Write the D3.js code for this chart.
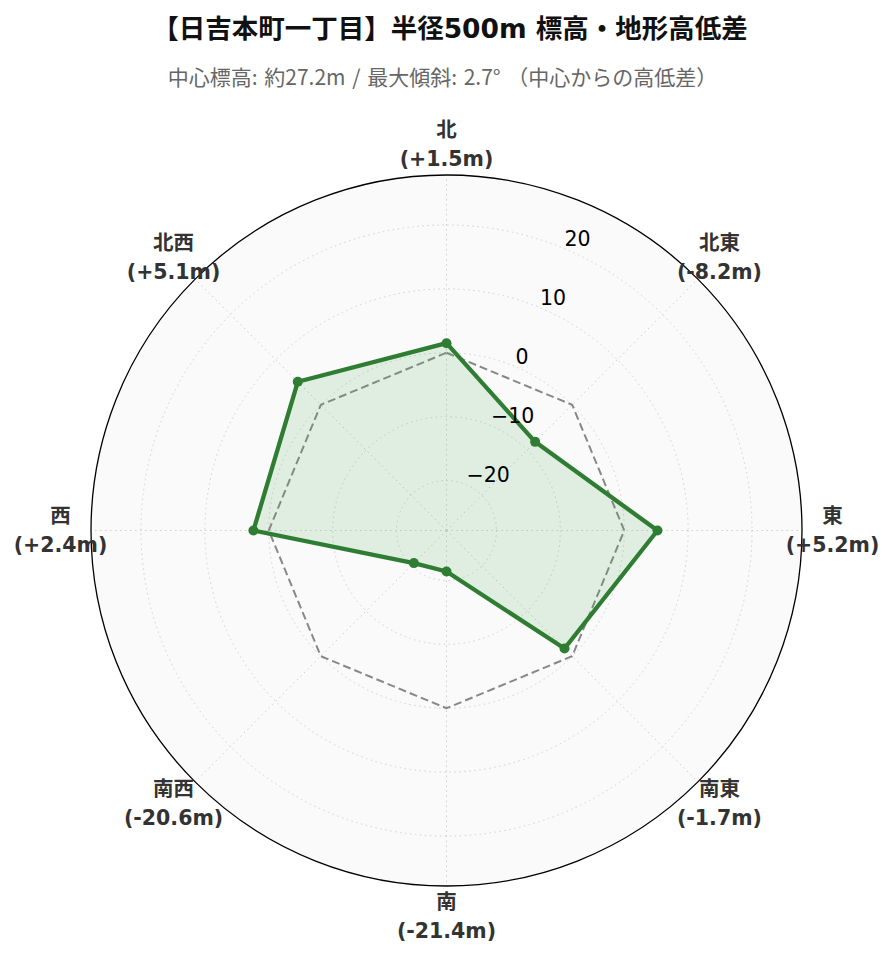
<!DOCTYPE html>
<html>
<head>
<meta charset="utf-8">
<script src="https://cdn.jsdelivr.net/npm/d3@7"></script>
<style>
  body { margin: 0; background: #fff; }
  text { font-family: "DejaVu Sans", "Noto Sans CJK JP", sans-serif; }
</style>
</head>
<body>
<div id="chart"></div>
<script>
// radar chart: elevation difference from center

const width = 893;
const height = 962;

// data
const directions = ['北', '北東', '東', '南東', '南', '南西', '西', '北西'];
const diffs = [1.5, -8.2, 5.2, -1.7, -21.4, -20.6, 2.4, 5.1];
const radialTicks = [-20, -10, 0, 10, 20];
const titleText = '【日吉本町一丁目】半径500m 標高・地形高低差';
const subtitleText = '中心標高: 約27.2m / 最大傾斜: 2.7°  （中心からの高低差）';

const cx = 446.5;
const cy = 530.5;
const outerR = 355.5;

const svg = d3.select('#chart')
  .append('svg')
  .attr('width', width)
  .attr('height', height);

// limits symmetric around 0
const lim = d3.max(diffs, d => Math.abs(d)) * 1.3;

const r = d3.scaleLinear()
  .domain([-lim, lim])
  .range([0, outerR]);

const angle = d3.scalePoint()
  .domain(directions)
  .range([0, 2 * Math.PI * (directions.length - 1) / directions.length]);

const g = svg.append('g')
  .attr('transform', `translate(${cx},${cy})`);

// background
g.append('circle')
  .attr('r', outerR)
  .attr('fill', '#fafafa');

// grid circles
g.selectAll('.grid-circle')
  .data(radialTicks)
  .enter().append('circle')
  .attr('class', 'grid-circle')
  .attr('r', d => r(d))
  .attr('fill', 'none')
  .attr('stroke', '#cfcfcf')
  .attr('stroke-width', 1)
  .attr('stroke-dasharray', '1.5,3.5');

// spokes
g.selectAll('.spoke')
  .data(directions)
  .enter().append('line')
  .attr('class', 'spoke')
  .attr('x1', 0)
  .attr('y1', 0)
  .attr('x2', d => outerR * Math.sin(angle(d)))
  .attr('y2', d => -outerR * Math.cos(angle(d)))
  .attr('stroke', '#cfcfcf')
  .attr('stroke-width', 1)
  .attr('stroke-dasharray', '1.5,3.5');

const radial = d3.lineRadial()
  .angle((d, i) => angle(directions[i]))
  .radius(d => r(d))
  .curve(d3.curveLinearClosed);

// zero reference
g.append('path')
  .attr('d', radial(directions.map(() => 0)))
  .attr('fill', 'none')
  .attr('stroke', '#888')
  .attr('stroke-width', 2)
  .attr('stroke-dasharray', '8,4');

// data area
g.append('path')
  .attr('d', radial(diffs))
  .attr('fill', '#4caf50')
  .attr('fill-opacity', 0.15)
  .attr('stroke', 'none');

g.append('path')
  .attr('d', radial(diffs))
  .attr('fill', 'none')
  .attr('stroke', '#2e7d32')
  .attr('stroke-width', 4.3)
  .attr('stroke-linejoin', 'round');

g.selectAll('.dot')
  .data(diffs)
  .enter().append('circle')
  .attr('class', 'dot')
  .attr('cx', (d, i) => r(d) * Math.sin(angle(directions[i])))
  .attr('cy', (d, i) => -r(d) * Math.cos(angle(directions[i])))
  .attr('r', 5)
  .attr('fill', '#2e7d32');

// outer frame
g.append('circle')
  .attr('r', outerR)
  .attr('fill', 'none')
  .attr('stroke', '#000')
  .attr('stroke-width', 1.3);

// radial tick labels at 22.5 deg
const tickAngle = Math.PI / 8;
g.selectAll('.rtick')
  .data(radialTicks)
  .enter().append('text')
  .attr('class', 'rtick')
  .attr('x', d => r(d) * Math.sin(tickAngle) + 1)
  .attr('y', d => -r(d) * Math.cos(tickAngle) - 2)
  .attr('font-size', 20.5)
  .attr('fill', '#000')
  .text(d => d < 0 ? '\u2212' + Math.abs(d) : d);

// direction labels
const fmt = v => (v >= 0 ? '+' : '') + v.toFixed(1) + 'm';
const labelR = 386;
const lbl = g.selectAll('.dir')
  .data(directions)
  .enter().append('text')
  .attr('class', 'dir')
  .attr('text-anchor', 'middle')
  .attr('font-size', 20.5)
  .attr('font-weight', 'bold')
  .attr('fill', '#333')
  .attr('transform', d => `translate(${labelR * Math.sin(angle(d))},${-labelR * Math.cos(angle(d))})`);

lbl.append('tspan')
  .attr('x', 0)
  .attr('y', -14.5)
  .attr('dominant-baseline', 'central')
  .text(d => d);

lbl.append('tspan')
  .attr('x', 0)
  .attr('y', 14.5)
  .attr('dominant-baseline', 'central')
  .text((d, i) => `(${fmt(diffs[i])})`);

// titles
svg.append('text')
  .attr('x', 450)
  .attr('y', 28)
  .attr('text-anchor', 'middle')
  .attr('dominant-baseline', 'central')
  .attr('font-size', 26.5)
  .attr('font-weight', 'bold')
  .attr('fill', '#111')
  .text(titleText);

svg.append('text')
  .attr('x', 442.5)
  .attr('y', 76)
  .attr('text-anchor', 'middle')
  .attr('dominant-baseline', 'central')
  .attr('font-size', 21)
  .attr('fill', '#666')
  .attr('word-spacing', 2)
  .style('font-family', '"Noto Sans CJK JP", sans-serif')
  .text(subtitleText);
</script>
</body>
</html>
